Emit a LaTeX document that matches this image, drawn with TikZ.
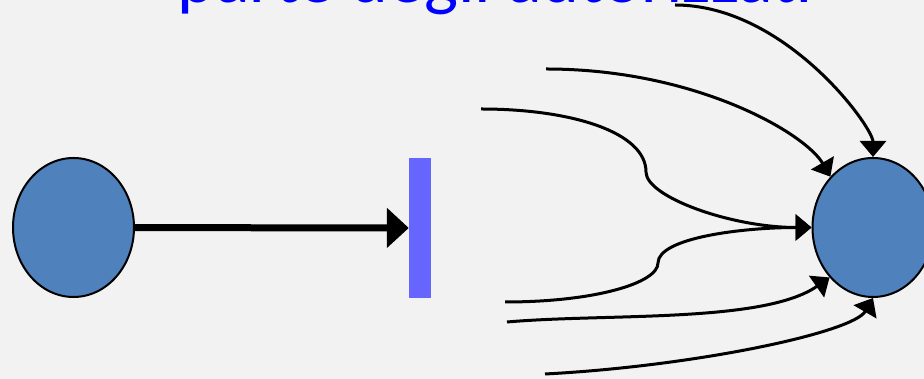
\documentclass[tikz,border=0pt]{standalone}
\usepackage{fontspec}
\setmainfont{Carlito}
\usetikzlibrary{arrows.meta}
\usetikzlibrary{shapes.geometric}
\definecolor{placeblue}{HTML}{4F81BD}
\definecolor{barblue}{HTML}{6666FF}
\definecolor{bggray}{HTML}{F2F2F2}

\begin{document}
\begin{tikzpicture}[x=1pt, y=1pt,
    place/.style={ellipse, draw=black, line width=2pt, fill=placeblue,
        minimum width=121pt, minimum height=139pt, inner sep=0pt},
    bar/.style={rectangle, fill=barblue, minimum width=22pt,
        minimum height=140pt, inner sep=0pt},
    flow/.style={-{Triangle[length=16pt,width=26pt]}, line width=3pt},
    title/.style={anchor=base, text=blue, font=\fontsize{72pt}{80pt}\selectfont}]
    \path[use as bounding box, fill=bggray] (0,0) rectangle (924,379);

    \node[title] (ttl) at (495,376) {parte degli autorizzati};

    \node[place] (src) at (73.5,151.5) {};
    \node[bar] (trans) at (420,151) {};
    \node[place] (dst) at (873,151.5) {};

    \draw[-{Triangle[length=22pt,width=39pt]}, line width=7pt] (src) -- (trans);

    % incoming arcs
    \coordinate (s1) at (675,374);
    \coordinate (s2) at (546,310);
    \coordinate (s3) at (481,270);
    \coordinate (s4) at (505,77);
    \coordinate (s5) at (507,57);
    \coordinate (s6) at (545,5);
    \coordinate (k3) at (646,207);
    \coordinate (k4) at (658,116);

    \draw[flow] (s1) to[out=0, in=90, out distance=110pt, in distance=30pt] (dst.north);
    \draw[flow] (s2) to[out=0, in=120, out distance=150pt, in distance=50pt] (dst.130);
    \draw[flow] (s3) to[out=0, in=90, out distance=90pt, in distance=40pt] (k3)
        to[out=-90, in=180, out distance=25pt, in distance=80pt] (dst.west);
    \draw[flow] (s4) to[out=0, in=-90, out distance=90pt, in distance=20pt] (k4)
        to[out=90, in=180, out distance=25pt, in distance=70pt] (dst.west);
    \draw[flow] (s5) to[out=5, in=215, out distance=100pt, in distance=80pt] (dst.229);
    \draw[flow] (s6) to[out=3, in=240, out distance=150pt, in distance=40pt] (dst.south);
\end{tikzpicture}
\end{document}
